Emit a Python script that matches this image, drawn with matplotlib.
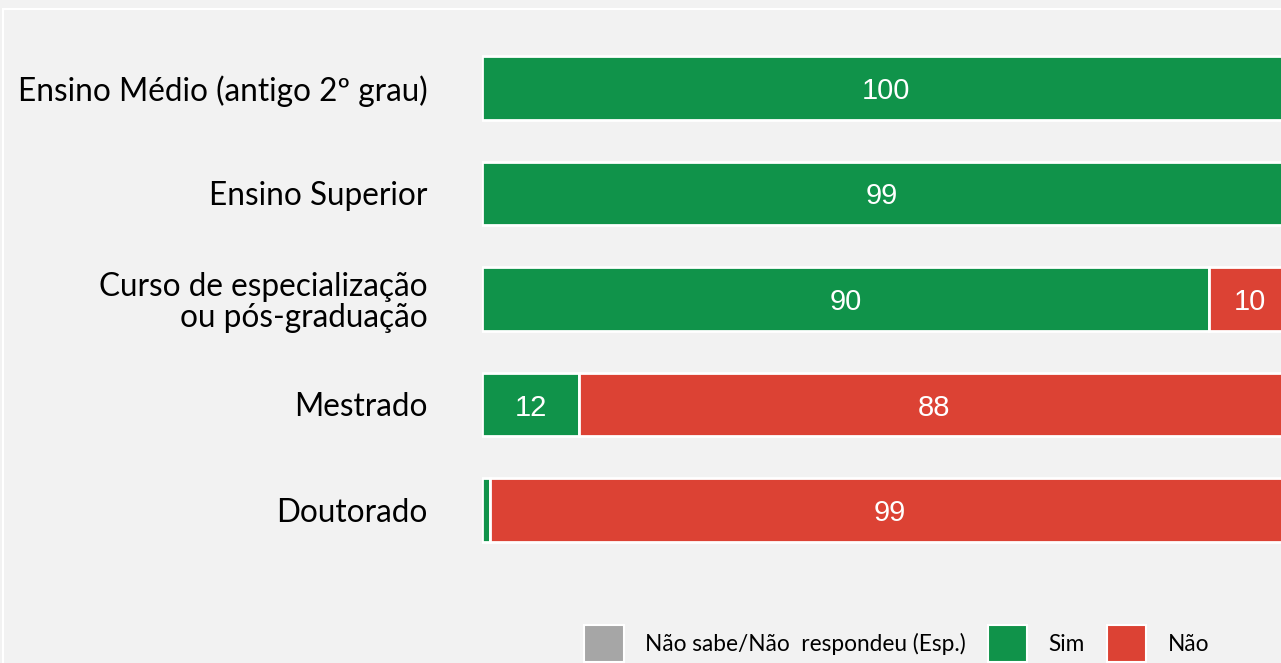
import matplotlib.pyplot as plt
from matplotlib.patches import Patch, Rectangle

categorias = ['Ensino Médio (antigo 2º grau)', 'Ensino Superior',
              'Curso de especialização\nou pós-graduação', 'Mestrado', 'Doutorado']
sim = [100, 99, 90, 12, 1]
nao = [0, 1, 10, 88, 99]
ns_nr = [0, 0, 0, 0, 0]

cor_sim = '#10934a'
cor_nao = '#dc4234'
cor_ns = '#a6a6a6'
fundo = '#f2f2f2'

W, H = 1281, 663
fig = plt.figure(figsize=(W / 100, H / 100), dpi=100, facecolor=fundo)

# moldura branca (só aparecem as bordas esquerda e de cima)
fig.patches.append(Rectangle((3 / W, -0.1), 1.2, 1 - 9 / H + 0.1, transform=fig.transFigure,
                             fill=False, edgecolor='white', linewidth=1.5))

# eixo vai alem da borda direita da imagem (grafico cortado)
ax = fig.add_axes([482 / W, 1 - 573.3 / H, 808 / W, 548.6 / H])
ax.set_facecolor(fundo)

y = list(range(len(categorias)))
esq = [0] * len(y)
for vals, cor in [(sim, cor_sim), (nao, cor_nao), (ns_nr, cor_ns)]:
    ax.barh(y, vals, left=esq, height=0.6, color=cor, edgecolor='white', linewidth=2)
    for i, v in enumerate(vals):
        if v >= 5:
            ax.text(esq[i] + v / 2, i, str(v), ha='center', va='center_baseline', color='white',
                    fontsize=21, family='Liberation Sans')
    esq = [a + b for a, b in zip(esq, vals)]

ax.set_xlim(0, 100)
ax.set_ylim(4.6, -0.6)
ax.set_yticks(y)
ax.set_yticklabels(categorias, fontsize=22.7, family='Lato', linespacing=1.05)
ax.tick_params(axis='y', length=0, pad=39)
ax.set_xticks([])
for s in ax.spines.values():
    s.set_visible(False)

handles = [Patch(facecolor=cor_ns, edgecolor='white', linewidth=1.5, label='Não sabe/Não  respondeu (Esp.)'),
           Patch(facecolor=cor_sim, edgecolor='white', linewidth=1.5, label='Sim'),
           Patch(facecolor=cor_nao, edgecolor='white', linewidth=1.5, label='Não')]
fig.legend(handles=handles, loc='upper left', bbox_to_anchor=(584 / W, 1 - 625 / H),
           ncol=3, frameon=False, prop={'family': 'Lato', 'size': 16.3},
           borderpad=0, borderaxespad=0, handlelength=1.75, handleheight=2.15,
           handletextpad=0.93, columnspacing=0.98)

fig.savefig('out.png', dpi=100, facecolor=fundo)
